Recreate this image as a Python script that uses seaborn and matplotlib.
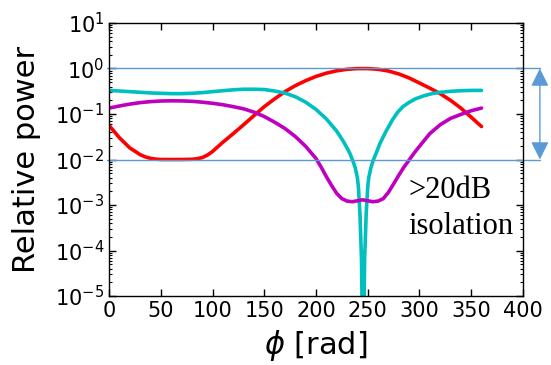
import pandas as pd
import seaborn as sns
import matplotlib
import matplotlib.pyplot as plt
import matplotlib.transforms as mtransforms
from matplotlib.ticker import LogLocator, NullFormatter

matplotlib.use("Agg")

# values (phi in rad, relative power)
red_phi = [0, 10, 20, 30, 35, 40, 45, 50, 60, 70, 80, 85, 90, 95, 100, 105, 110,
           120, 130, 140, 150, 160, 170, 180, 190, 200, 210, 220, 230, 240, 250,
           260, 270, 280, 290, 300, 310, 320, 330, 340, 350, 360]
red_pow = [0.056, 0.03, 0.018, 0.0128, 0.0114, 0.0106, 0.0102, 0.0100, 0.0100,
           0.0100, 0.0101, 0.0104, 0.0110, 0.0125, 0.015, 0.019, 0.024, 0.037,
           0.058, 0.092, 0.145, 0.215, 0.31, 0.42, 0.54, 0.67, 0.79, 0.89, 0.96,
           0.995, 0.995, 0.96, 0.88, 0.76, 0.62, 0.48, 0.37, 0.28, 0.20, 0.135,
           0.085, 0.053]

cyan_phi = [0, 10, 20, 30, 40, 50, 60, 70, 80, 90, 100, 110, 120, 130, 140, 150,
            160, 170, 180, 190, 200, 210, 220, 226, 230, 233, 236, 238, 240, 241,
            242.5, 244, 245.5, 247, 248.5, 250, 251, 253, 255, 258, 262, 268, 274,
            279, 284, 290, 296, 304, 312, 320, 330, 340, 350, 360]
cyan_pow = [0.33, 0.32, 0.31, 0.30, 0.29, 0.285, 0.28, 0.28, 0.285, 0.295, 0.31,
            0.325, 0.34, 0.35, 0.35, 0.345, 0.32, 0.288, 0.24, 0.182, 0.126,
            0.078, 0.042, 0.026, 0.018, 0.0132, 0.0089, 0.0065, 0.004, 0.0025,
            6.3e-4, 6.3e-5, 1e-7, 6.3e-5, 6.3e-4, 0.0025, 0.004, 0.0065, 0.0092,
            0.0135, 0.023, 0.043, 0.075, 0.11, 0.145, 0.18, 0.215, 0.25, 0.28,
            0.30, 0.315, 0.325, 0.33, 0.33]

purple_phi = [0, 10, 20, 30, 40, 50, 60, 70, 80, 90, 100, 110, 120, 130, 140,
              150, 160, 170, 180, 190, 200, 205, 210, 215, 220, 225, 230, 235,
              240, 245, 250, 255, 260, 265, 270, 275, 280, 285, 290, 295, 300,
              310, 320, 330, 340, 350, 360]
purple_pow = [0.135, 0.15, 0.165, 0.178, 0.187, 0.193, 0.195, 0.194, 0.19, 0.182,
              0.172, 0.16, 0.145, 0.13, 0.11, 0.088, 0.066, 0.048, 0.032, 0.0195,
              0.0105, 0.0068, 0.0042, 0.0027, 0.0018, 0.00138, 0.00122, 0.00118,
              0.00124, 0.0013, 0.00124, 0.00118, 0.00122, 0.00138, 0.0019,
              0.0029, 0.0045, 0.0068, 0.0097, 0.014, 0.0195, 0.037, 0.058, 0.08,
              0.098, 0.118, 0.135]

band = [1.0, 0.01]  # the >20dB isolation band

df = pd.concat([
    pd.DataFrame({"phi": red_phi, "power": red_pow, "curve": "red"}),
    pd.DataFrame({"phi": cyan_phi, "power": cyan_pow, "curve": "cyan"}),
    pd.DataFrame({"phi": purple_phi, "power": purple_pow, "curve": "purple"}),
])
palette = {"red": "#ff0000", "cyan": "#00bfbf", "purple": "#bf00bf"}

sns.set_style("ticks")
plt.rcParams["font.family"] = ["DejaVu Sans"]
plt.rcParams.update({"text.color": "black", "axes.labelcolor": "black",
                     "xtick.color": "black", "ytick.color": "black"})

fig = plt.figure(figsize=(5.51, 3.65), dpi=100)
ax = fig.add_axes([0.198, 0.189, 0.751, 0.748])

sns.lineplot(data=df, x="phi", y="power", hue="curve", palette=palette,
             estimator=None, sort=False, linewidth=2.6, legend=False, ax=ax)

ax.set_yscale("log")
ax.set_ylim(1e-5, 1e1)
ax.yaxis.set_major_locator(LogLocator(base=10, numticks=20))
ax.yaxis.set_minor_locator(LogLocator(base=10, subs=range(2, 10), numticks=20))
ax.yaxis.set_minor_formatter(NullFormatter())
ax.set_xlim(0, 400)
ax.set_xticks(range(0, 401, 50))
ax.tick_params(which="both", direction="in", top=True, right=True,
               labelsize=15, color="black", labelcolor="black")
ax.tick_params(which="major", length=5, width=1)
ax.tick_params(which="minor", length=2.5, width=0.8)
for s in ax.spines.values():
    s.set_color("black")
    s.set_linewidth(1)

ax.set_xlabel(r"$\phi$ [rad]", fontsize=22, labelpad=5)
ax.set_ylabel("Relative power", fontsize=22, labelpad=10)

# band lines and arrow, running past the right edge of the axes
blue = "#5b9bd5"
trans = mtransforms.blended_transform_factory(ax.transAxes, ax.transData)
for v in band:
    ax.plot([-0.005, 1.041], [v, v], color=blue, lw=1, transform=trans,
            clip_on=False)
ax.annotate("", xy=(1.041, band[0]), xytext=(1.041, band[1]),
            xycoords=trans, textcoords=trans,
            arrowprops=dict(arrowstyle="<|-|>", color=blue, lw=1,
                            mutation_scale=27, shrinkA=0, shrinkB=0))

ax.text(289, 1.44e-3, ">20dB", fontsize=22,
        family=["Liberation Serif"], va="baseline")
ax.text(289, 2.25e-4, "isolation", fontsize=22,
        family=["Liberation Serif"], va="baseline")

fig.savefig("out.png", dpi=100)
